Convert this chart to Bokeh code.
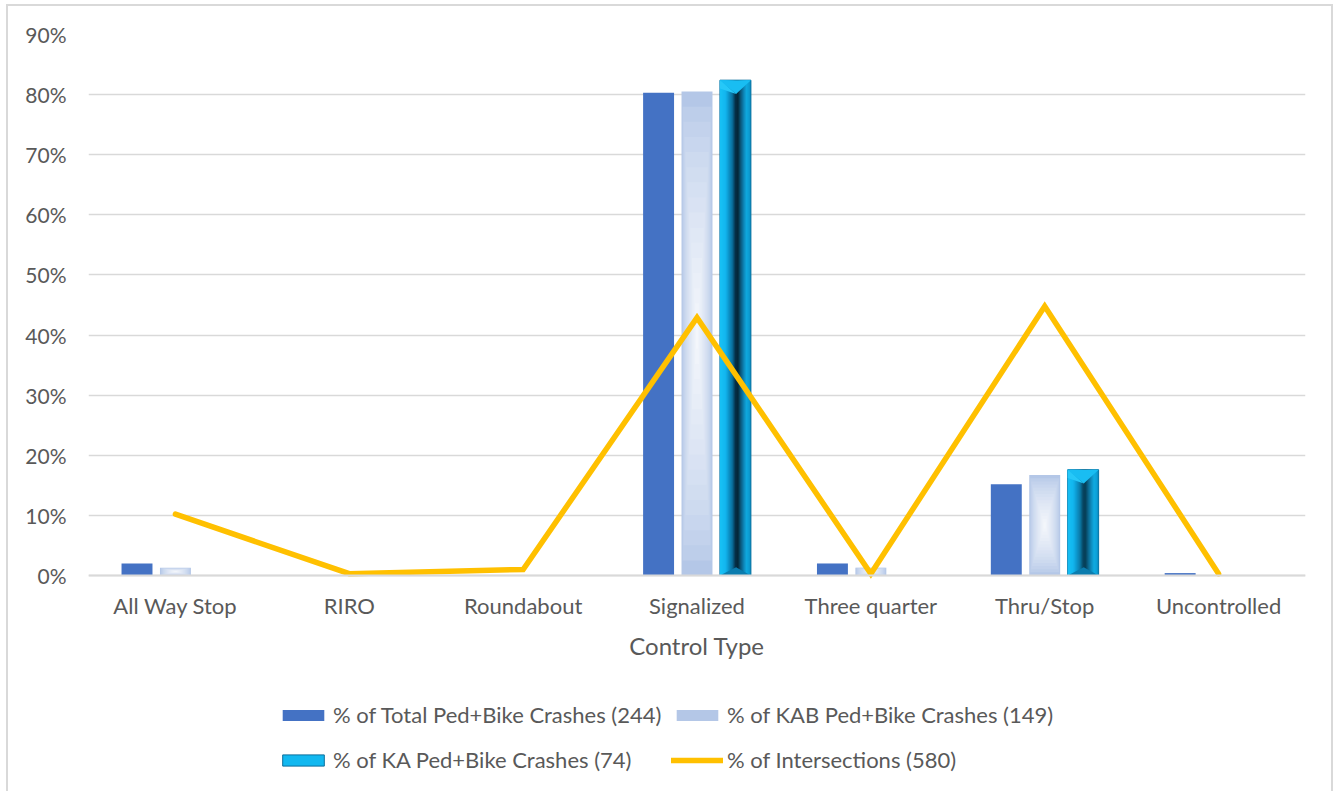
import numpy as np
from bokeh.plotting import figure
from bokeh.models import (Range1d, FixedTicker, PrintfTickFormatter, Legend,
                          LegendItem)
from bokeh.embed import file_html
from bokeh.resources import INLINE

# ---- data -------------------------------------------------------------
control_types = ["All Way Stop", "RIRO", "Roundabout", "Signalized",
                 "Three quarter", "Thru/Stop", "Uncontrolled"]
pct_total_crashes = [2.0, 0.0, 0.0, 80.3, 2.0, 15.2, 0.4]       # of 244
pct_kab_crashes = [1.3, 0.0, 0.0, 80.5, 1.3, 16.7, 0.0]         # of 149
pct_ka_crashes = [0.0, 0.0, 0.0, 82.4, 0.0, 17.6, 0.0]          # of 74
pct_intersections = [10.2, 0.3, 1.0, 42.9, 0.3, 44.8, 0.3]      # of 580
y_ticks = list(range(0, 100, 10))

label_total = "% of Total Ped+Bike Crashes (244)"
label_kab = "% of KAB Ped+Bike Crashes (149)"
label_ka = "% of KA Ped+Bike Crashes (74)"
label_int = "% of Intersections (580)"

# ---- layout / styling -------------------------------------------------
FONT = "Lato"
TEXT = "#595959"
GRID = "#D9D9D9"
BAR_W = 0.178
OFFSET = 0.221

PLOT_PX = 541        # pixel height of the 0..90 % band
FRAME_PX = 753       # frame also holds the category labels and the legend
Y_MAX = 90.0
Y_MIN = -Y_MAX * (FRAME_PX - PLOT_PX) / PLOT_PX

x = np.arange(len(control_types), dtype=float)

p = figure(frame_width=1217, frame_height=FRAME_PX, output_backend="svg",
           toolbar_location=None,
           x_range=Range1d(-0.5, len(control_types) - 0.5),
           y_range=Range1d(Y_MIN, Y_MAX),
           min_border_left=80, min_border_right=26, min_border_top=28,
           min_border_bottom=4)
p.styles = {"border-top": "2px solid #D9D9D9", "border-left": "2px solid #D9D9D9",
            "border-right": "2px solid #D9D9D9"}
p.margin = (4, 0, 0, 6)
p.outline_line_color = None
p.background_fill_color = "white"
p.border_fill_color = "white"

# category axis pinned to the 0 % line
p.xaxis.fixed_location = 0
p.xaxis.ticker = FixedTicker(ticks=list(x))
p.xaxis.major_label_overrides = {i: c for i, c in enumerate(control_types)}
p.xaxis.axis_label = "Control Type"
p.xaxis.axis_line_color = GRID
p.xaxis.axis_line_width = 2
p.xaxis.major_tick_line_color = None
p.xaxis.minor_tick_line_color = None
p.xaxis.major_tick_out = 0
p.xaxis.major_tick_in = 0
p.xaxis.major_label_standoff = 16
p.xaxis.axis_label_standoff = 9
p.xaxis.major_label_text_font = FONT
p.xaxis.major_label_text_font_size = "22px"
p.xaxis.major_label_text_color = TEXT
p.xaxis.axis_label_text_font = FONT
p.xaxis.axis_label_text_font_size = "24px"
p.xaxis.axis_label_text_font_style = "normal"
p.xaxis.axis_label_text_color = TEXT

p.yaxis.ticker = FixedTicker(ticks=y_ticks)
p.yaxis.formatter = PrintfTickFormatter(format="%d%%")
p.yaxis.axis_line_color = None
p.yaxis.major_tick_line_color = None
p.yaxis.minor_tick_line_color = None
p.yaxis.major_tick_out = 0
p.yaxis.major_tick_in = 0
p.yaxis.major_label_standoff = 22
p.yaxis.major_label_text_font = FONT
p.yaxis.major_label_text_font_size = "21px"
p.yaxis.major_label_text_color = TEXT

p.xgrid.grid_line_color = None
p.ygrid.grid_line_color = GRID
p.ygrid.grid_line_width = 1.5


def mix(c1, c2, t):
    a = np.array([int(c1[i:i + 2], 16) for i in (1, 3, 5)], dtype=float)
    b = np.array([int(c2[i:i + 2], 16) for i in (1, 3, 5)], dtype=float)
    r = a + (b - a) * t
    return "#%02x%02x%02x" % tuple(int(round(v)) for v in r)


# ---- series 1: solid bars ---------------------------------------------
v_total = np.array(pct_total_crashes)
r_total = p.vbar(x=x - OFFSET, top=v_total, width=BAR_W, fill_color="#4472C4",
                 line_color=None)

# ---- series 2: bars with a rectangular light-centred gradient ---------
v_kab = np.array(pct_kab_crashes)
r_kab = p.vbar(x=x, top=v_kab, width=BAR_W, fill_color="#B4C7E7", line_color=None)
n_layers = 16
for k in range(1, n_layers):
    t = k / n_layers
    half = v_kab / 2.0
    p.vbar(x=x, top=half + half * (1 - t), bottom=half - half * (1 - t),
           width=BAR_W * (1 - t), fill_color=mix("#B4C7E7", "#F6F8FC", t ** 0.7),
           line_color=None)

# ---- series 3: bevelled bars ------------------------------------------
v_ka = np.array(pct_ka_crashes)
r_ka = p.vbar(x=x + OFFSET, top=v_ka, width=BAR_W, fill_color="#12B8F0",
              line_color="#0A6E9C", line_width=1)
stops = [(0.00, "#1AC2F6"), (0.18, "#14B6EE"), (0.26, "#0F9CD2"),
         (0.40, "#0A6C98"), (0.50, "#062A3E"), (0.58, "#051E2C"),
         (0.66, "#0B4C6C"), (0.78, "#0F86B8"), (0.86, "#10A8DE"),
         (0.96, "#0C96CC"), (1.00, "#0A6E9C")]
n_strips = 31
sw = BAR_W / n_strips
for j in range(n_strips):
    u = (j + 0.5) / n_strips
    for (u0, c0), (u1, c1) in zip(stops[:-1], stops[1:]):
        if u0 <= u <= u1:
            col = mix(c0, c1, (u - u0) / (u1 - u0))
            break
    p.vbar(x=x + OFFSET - BAR_W / 2 + (j + 0.5) * sw, top=v_ka, width=sw * 1.05,
           fill_color=col, line_color=None)
# bevel faces at the top and bottom of each bar
bevel = 2.3
has_ka = v_ka > 0
left = (x + OFFSET - BAR_W / 2)[has_ka]
right = (x + OFFSET + BAR_W / 2)[has_ka]
mid = (x + OFFSET - BAR_W / 2 + 0.52 * BAR_W)[has_ka]
tops = v_ka[has_ka]
p.patches(xs=[[l, r, m] for l, r, m in zip(left, right, mid)],
          ys=[[t, t, t - bevel] for t in tops],
          fill_color="#19BDF2", line_color=None)
p.patches(xs=[[l, m, l] for l, m in zip(left, mid)],
          ys=[[t, t - bevel, t - bevel * 0.6] for t in tops],
          fill_color="#26C8F8", line_color=None)
p.patches(xs=[[l, r, m] for l, r, m in zip(left, right, mid)],
          ys=[[0, 0, bevel * 0.6] for t in tops],
          fill_color="#0B7CAE", line_color=None)

# ---- line series --------------------------------------------------------
r_int = p.line(x=x, y=pct_intersections, line_color="#FFC000", line_width=5.5,
               line_cap="round", line_join="miter")

# ---- legend: two rows with aligned columns, under the axis title -------
legend_style = dict(orientation="horizontal", glyph_width=52, glyph_height=14,
                    label_standoff=4, spacing=8, label_width=330,
                    label_height=26, label_text_font=FONT,
                    label_text_font_size="22px", label_text_color=TEXT,
                    border_line_color=None, background_fill_alpha=0,
                    padding=0, margin=0)
legend_top = Legend(items=[LegendItem(label=label_total, renderers=[r_total]),
                           LegendItem(label=label_kab, renderers=[r_kab])],
                    location=(189, 59), **legend_style)
legend_bottom = Legend(items=[LegendItem(label=label_ka, renderers=[r_ka]),
                              LegendItem(label=label_int, renderers=[r_int])],
                       location=(189, 14), **legend_style)
p.add_layout(legend_top, "center")
p.add_layout(legend_bottom, "center")

open("out.html", "w").write(file_html(p, INLINE))
